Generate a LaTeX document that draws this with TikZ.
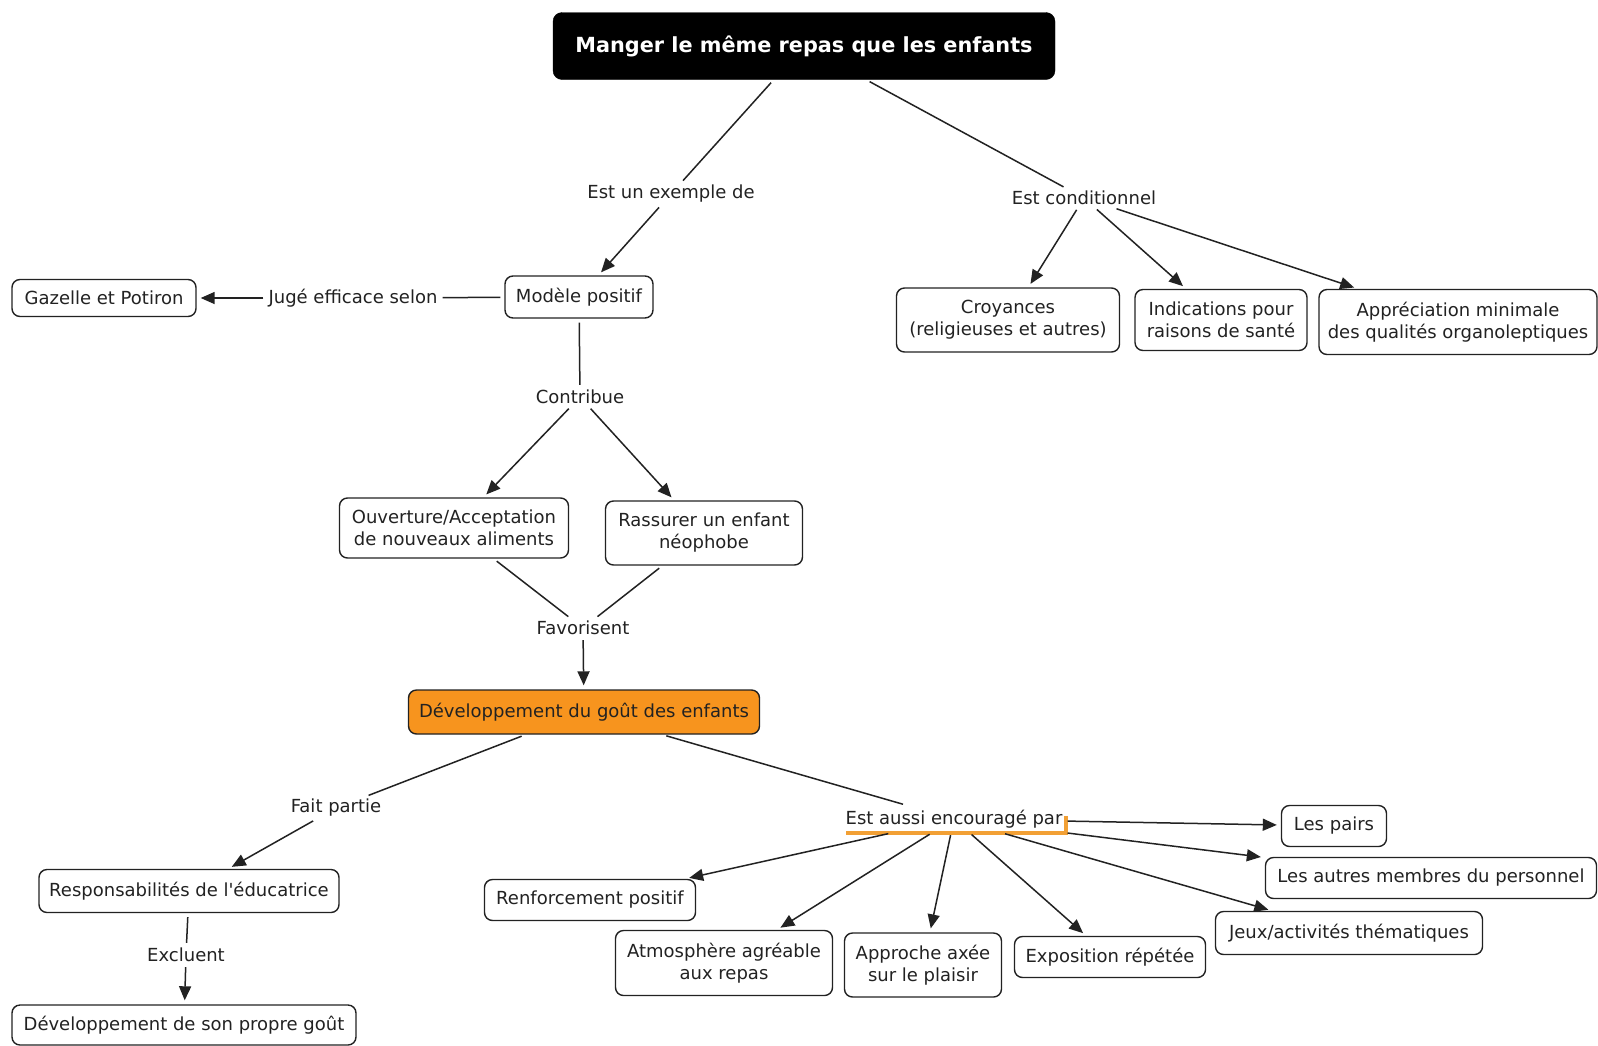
\documentclass[tikz,border=0pt]{standalone}
\usepackage{fontspec}
\setmainfont{DejaVu Sans}[Ligatures=TeXOff]
\usetikzlibrary{arrows.meta}
\definecolor{ink}{HTML}{222222}
\definecolor{orangefill}{HTML}{F7941E}
\definecolor{hilite}{HTML}{F2A035}
\begin{document}
\begin{tikzpicture}[x=1pt,y=-1pt,
  txt/.style={font=\fontsize{18}{22}\selectfont, text=ink},
  concept/.style={txt, draw=ink, line width=1.4pt, rounded corners=8pt, fill=white, align=center, inner sep=0pt},
  linklabel/.style={txt, inner sep=3pt},
  conn/.style={draw=ink, line width=1.5pt},
  seg/.style={conn, shorten <=4pt, shorten >=2pt},
  tip/.style={conn, -{Triangle[length=14pt,width=12pt]}, shorten <=2pt, shorten >=4pt},
]
\useasboundingbox[fill=white] (0,0) rectangle (1598,1045);

% main concept
\node[fill=black, draw=black, rounded corners=9pt, minimum width=502pt, minimum height=67pt,
      text=white, font=\bfseries\fontsize{20.8}{24}\selectfont] (top) at (804,46)
      {Manger le même repas que les enfants};

% concepts
\node[concept, minimum width=148pt, minimum height=42pt] (modele) at (579,297) {Modèle positif};
\node[concept, minimum width=184pt, minimum height=37pt] (gazelle) at (104,298) {Gazelle et Potiron};
\node[concept, minimum width=229pt, minimum height=60pt] (ouvert) at (454,528) {Ouverture/Acceptation\\de nouveaux aliments};
\node[concept, minimum width=197pt, minimum height=64pt] (rassur) at (704,533) {Rassurer un enfant\\néophobe};
\node[concept, fill=orangefill, minimum width=351pt, minimum height=44pt] (devgout) at (584,712) {Développement du goût des enfants};
\node[concept, minimum width=300pt, minimum height=43pt] (resp) at (189,891) {Responsabilités de l'éducatrice};
\node[concept, minimum width=344pt, minimum height=40pt] (propre) at (184,1025) {Développement de son propre goût};
\node[concept, minimum width=223pt, minimum height=64pt] (croy) at (1008,320) {Croyances\\(religieuses et autres)};
\node[concept, minimum width=172pt, minimum height=61pt] (indic) at (1221,320) {Indications pour\\raisons de santé};
\node[concept, minimum width=278pt, minimum height=65pt] (appr) at (1458,322) {Appréciation minimale\\des qualités organoleptiques};
\node[concept, minimum width=105pt, minimum height=41pt] (pairs) at (1334,826) {Les pairs};
\node[concept, minimum width=331pt, minimum height=41pt] (autres) at (1431,878) {Les autres membres du personnel};
\node[concept, minimum width=267pt, minimum height=43pt] (jeux) at (1349,933) {Jeux/activités thématiques};
\node[concept, minimum width=211pt, minimum height=41pt] (renf) at (590,900) {Renforcement positif};
\node[concept, minimum width=217pt, minimum height=65pt] (atmo) at (724,963) {Atmosphère agréable\\aux repas};
\node[concept, minimum width=157pt, minimum height=64pt] (appro) at (923,965) {Approche axée\\sur le plaisir};
\node[concept, minimum width=191pt, minimum height=41pt] (expo) at (1110,957) {Exposition répétée};

% linking phrases
\node[linklabel] (lexemple) at (671,194) {Est un exemple de};
\node[linklabel] (lcond) at (1084,198) {Est conditionnel};
\node[linklabel] (ljuge) at (353,298) {Jugé efficace selon};
\node[linklabel] (lcontrib) at (580,397) {Contribue};
\node[linklabel] (lfav) at (583,628) {Favorisent};
\node[linklabel] (lfait) at (336,808) {Fait partie};
\node[linklabel] (lexcl) at (186,955) {Excluent};
\node[linklabel, minimum width=222pt, minimum height=28pt] (lencour) at (954,819) {Est aussi encouragé par};
\draw[hilite, line width=4pt] ([xshift=4pt]lencour.south west) -- (lencour.south east) -- ++(0,-17);

% connections
\draw[seg] (top) -- (lexemple);
\draw[tip] (lexemple) -- (modele);
\draw[seg] (top) -- (lcond);
\draw[tip] (lcond) -- (croy);
\draw[tip] (lcond) -- (indic);
\draw[tip] (lcond) -- (appr);

\draw[seg] (modele) -- (ljuge);
\draw[tip] (ljuge) -- (gazelle);
\draw[seg] (modele) -- (lcontrib);
\draw[tip] (lcontrib) -- (ouvert);
\draw[tip] (lcontrib) -- (rassur);

\draw[seg] (ouvert) -- (lfav);
\draw[seg] (rassur) -- (lfav);
\draw[tip] (lfav) -- (devgout);

\draw[seg] (devgout) -- (lfait);
\draw[tip] (lfait) -- (resp);
\draw[seg] (resp) -- (lexcl);
\draw[tip] (lexcl) -- (propre);

\draw[seg] (devgout) -- (lencour);
\draw[tip] (lencour) -- (pairs);
\draw[tip] (lencour) -- (autres);
\draw[tip] (lencour) -- (jeux);
\draw[tip] (lencour) -- (renf);
\draw[tip] (lencour) -- (atmo);
\draw[tip] (lencour) -- (appro);
\draw[tip] (lencour) -- (expo);
\end{tikzpicture}
\end{document}
